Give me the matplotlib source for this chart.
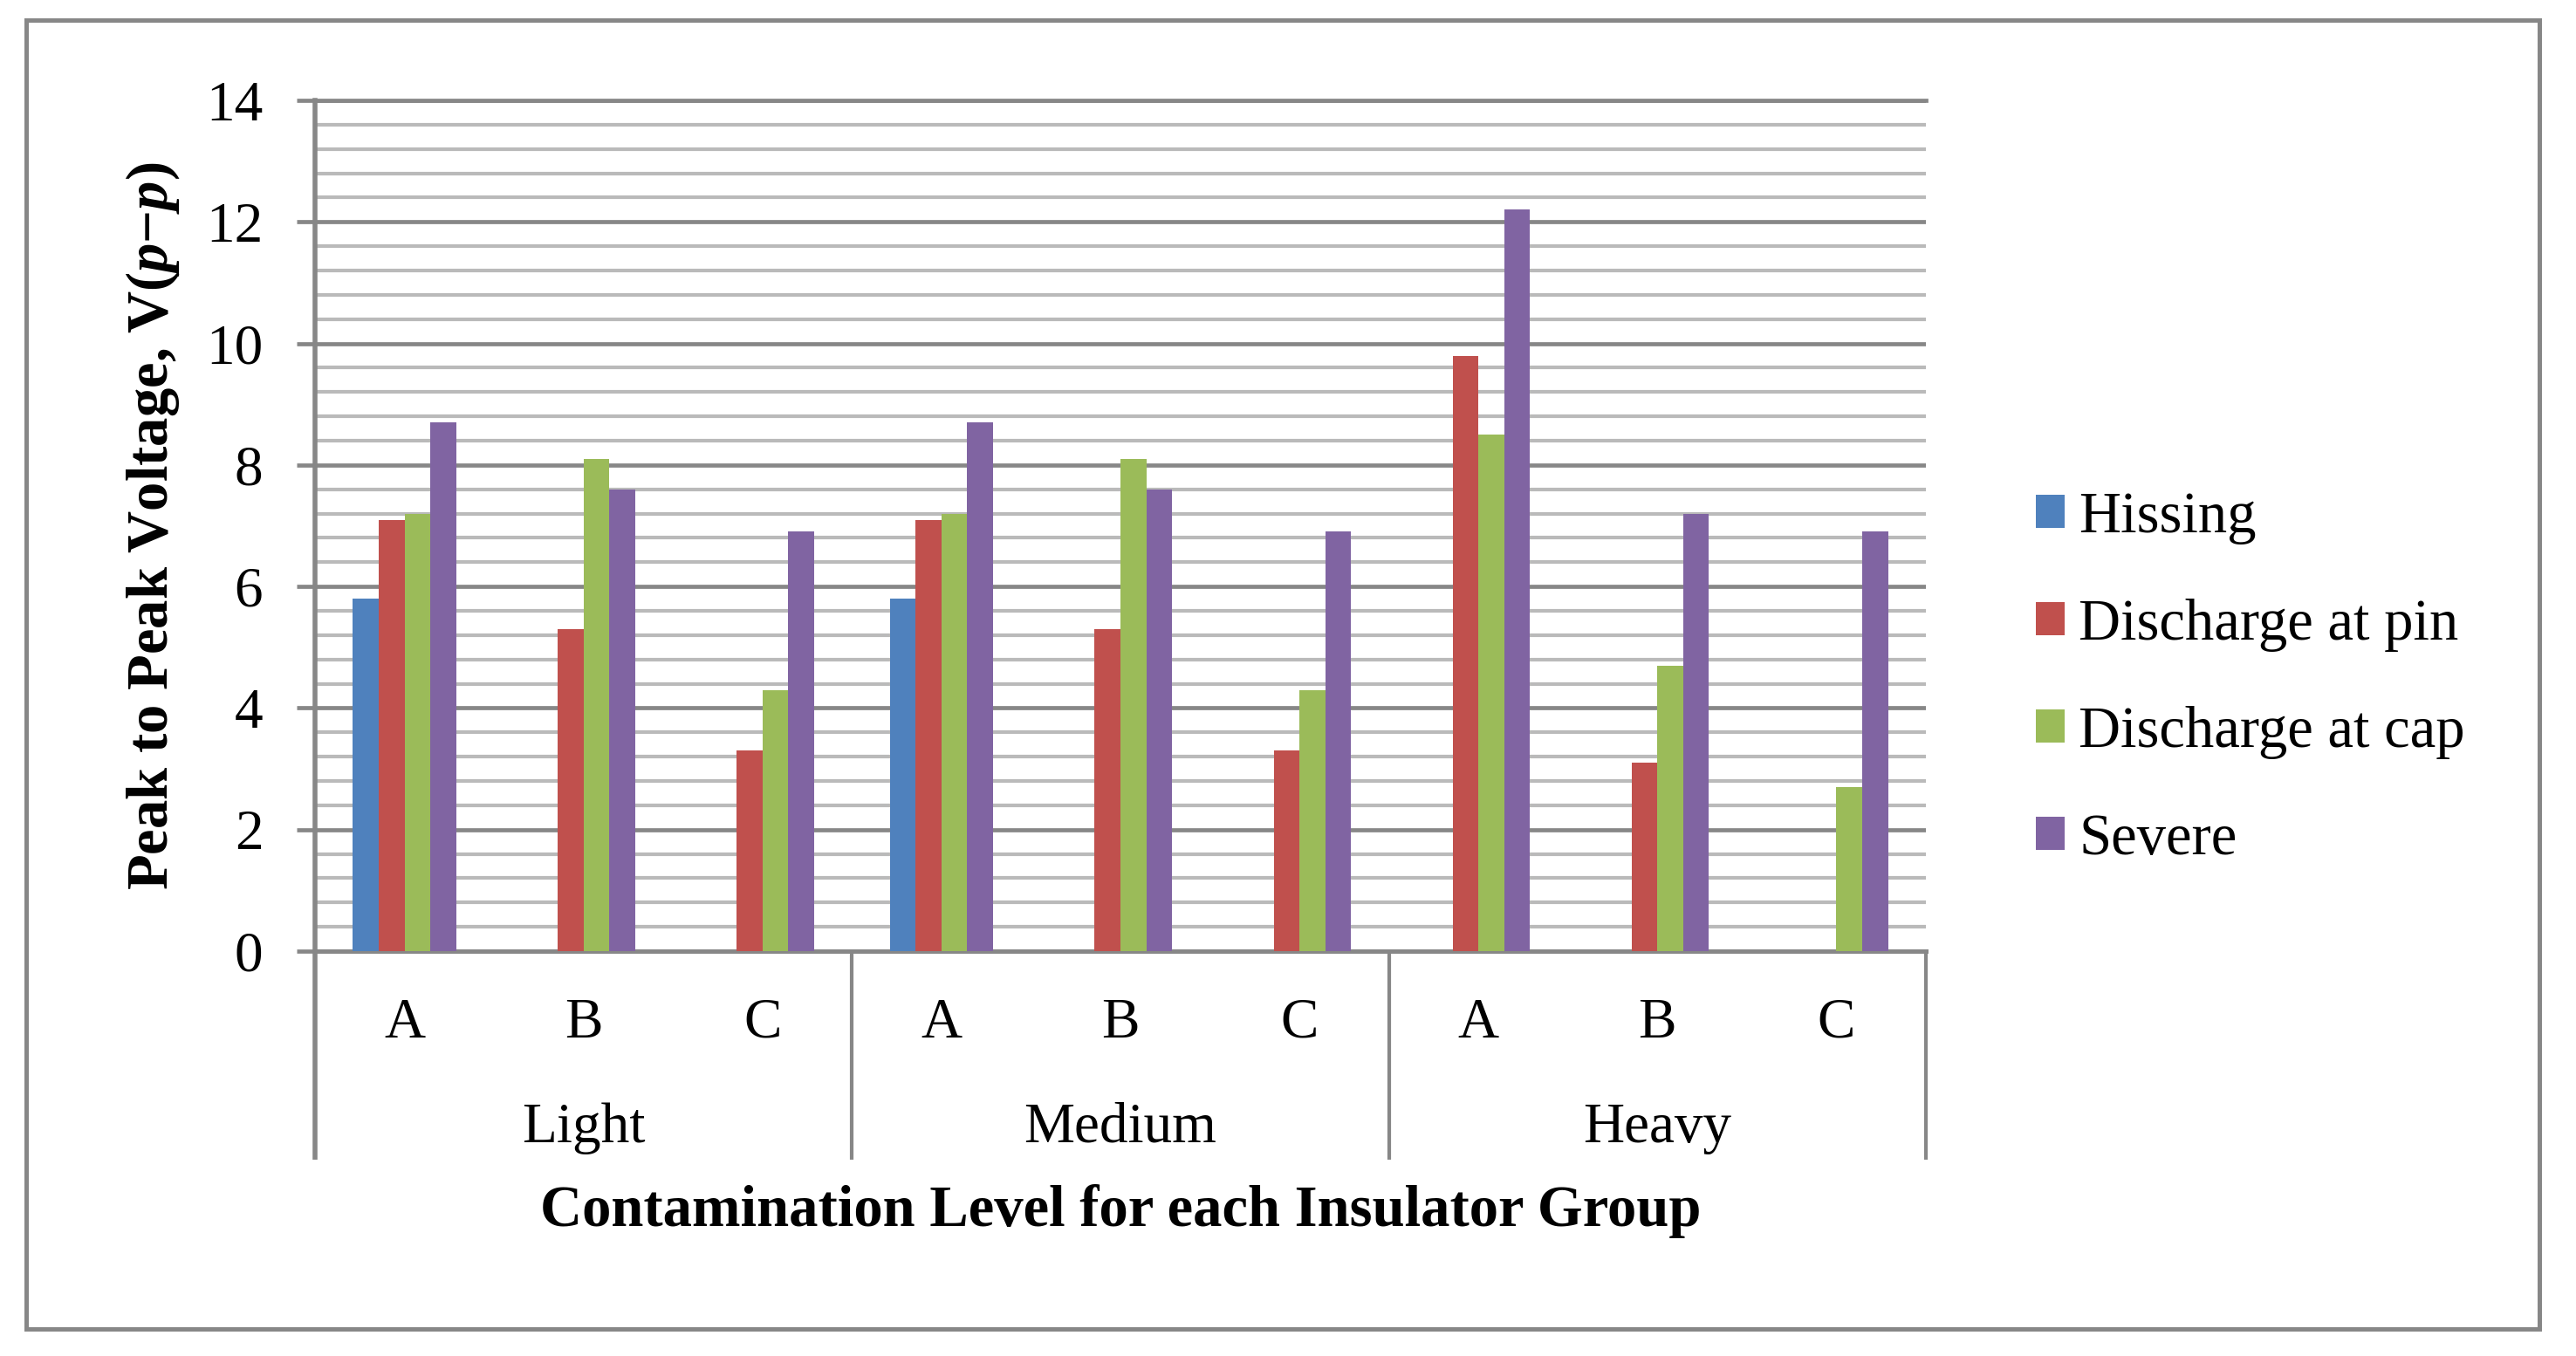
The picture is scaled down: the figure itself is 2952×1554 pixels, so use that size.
import numpy as np
import matplotlib
matplotlib.use("Agg")
import matplotlib.pyplot as plt
from matplotlib.ticker import MultipleLocator
from matplotlib.patches import Rectangle

# data
groups = ["Light", "Medium", "Heavy"]
insulators = ["A", "B", "C"]
series = ["Hissing", "Discharge at pin", "Discharge at cap", "Severe"]
hissing = [5.8, 0, 0, 5.8, 0, 0, 0, 0, 0]
pin = [7.1, 5.3, 3.3, 7.1, 5.3, 3.3, 9.8, 3.1, 0]
cap = [7.2, 8.1, 4.3, 7.2, 8.1, 4.3, 8.5, 4.7, 2.7]
severe = [8.7, 7.6, 6.9, 8.7, 7.6, 6.9, 12.2, 7.2, 6.9]
colors = ["#4F81BD", "#C0504D", "#9BBB59", "#8064A2"]

plt.rcParams["font.family"] = ["Liberation Serif", "DejaVu Serif"]
plt.rcParams["mathtext.fontset"] = "custom"
plt.rcParams["mathtext.rm"] = "Liberation Serif"
plt.rcParams["mathtext.it"] = "Liberation Serif:italic"
plt.rcParams["mathtext.bf"] = "Liberation Serif:bold"
plt.rcParams["mathtext.bfit"] = "Liberation Serif:bold:italic"

W, H = 2952, 1554
FS = 47
FS_BIG = 48
GRID_MAJ = "#878787"
GRID_MIN = "#BABABA"

fig = plt.figure(figsize=(W / 100, H / 100), dpi=100)
ax = fig.add_axes([361 / W, 1 - 1090 / H, (2207 - 361) / W, (1090 - 115) / H])

x = np.arange(len(insulators) * len(groups))
bw = 0.144
all_vals = [hissing, pin, cap, severe]
for k, vals in enumerate(all_vals):
    ax.bar(x + (k - 1.5) * bw, vals, width=bw, color=colors[k], label=series[k], zorder=3)

ax.set_xlim(-0.5, 8.5)
ax.set_ylim(0, 14)
ax.yaxis.set_major_locator(MultipleLocator(2))
ax.yaxis.set_minor_locator(MultipleLocator(0.4))
ax.set_axisbelow(True)
ax.grid(which="major", axis="y", color=GRID_MAJ, lw=3.4)
ax.grid(which="minor", axis="y", color=GRID_MIN, lw=3.0)
ax.tick_params(axis="y", which="major", length=15, width=3.4, color=GRID_MAJ,
               pad=28, labelsize=FS)
ax.tick_params(axis="y", which="minor", length=0)
ax.set_xticks([])

ax.spines["right"].set_visible(False)
for s in ["left", "bottom", "top"]:
    ax.spines[s].set_color(GRID_MAJ)
ax.spines["left"].set_linewidth(4)
ax.spines["bottom"].set_linewidth(3.6)
ax.spines["top"].set_linewidth(3.4)

# multi level category axis
trans = ax.get_xaxis_transform()
for i in x:
    ax.text(i, -0.1015, insulators[i % 3], transform=trans, ha="center",
            va="baseline", fontsize=FS)
for g, name in enumerate(groups):
    ax.text(g * 3 + 1, -0.2246, name, transform=trans, ha="center",
            va="baseline", fontsize=FS)
for b in [-0.5, 2.5, 5.5, 8.5]:
    lw = 4 if b == -0.5 else 3
    ax.plot([b, b], [0, -0.245], transform=trans, color=GRID_MAJ, lw=lw,
            clip_on=False, solid_capstyle="butt")

ax.text(0.5, -0.323, "Contamination Level for each Insulator Group",
        transform=ax.transAxes, ha="center", va="baseline", fontsize=FS_BIG,
        fontweight="bold")
fig.text(175 / W, 1 - 603 / H,
         r"Peak to Peak Voltage, $\mathbf{V(}\mathbfit{p}\mathbf{-}\mathbfit{p}\mathbf{)}$",
         rotation=90, ha="center", va="center", fontsize=FS_BIG, fontweight="bold")

leg = ax.legend(loc="center left", bbox_to_anchor=(2333 / W, 1 - 778 / H),
                bbox_transform=fig.transFigure, frameon=False, fontsize=FS_BIG,
                handlelength=0.5, handleheight=0.5, handletextpad=0.24,
                labelspacing=0.93, borderpad=0, borderaxespad=0)

# outer chart border
fig.patches.append(Rectangle((30 / W, 1 - 1523 / H), (2910 - 30) / W, (1523 - 23) / H,
                             transform=fig.transFigure, fill=False,
                             edgecolor=GRID_MAJ, lw=3.6))

plt.savefig("out.png", dpi=100)
